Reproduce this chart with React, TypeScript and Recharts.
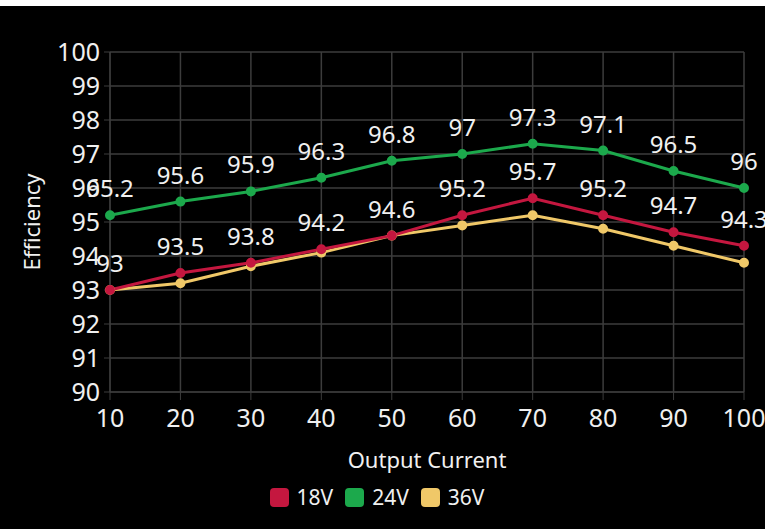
import { CartesianGrid, Label, LabelList, Legend, Line, LineChart, XAxis, YAxis } from "recharts";

const currents = [10, 20, 30, 40, 50, 60, 70, 80, 90, 100];
const eff18V = [93, 93.5, 93.8, 94.2, 94.6, 95.2, 95.7, 95.2, 94.7, 94.3];
const eff24V = [95.2, 95.6, 95.9, 96.3, 96.8, 97, 97.3, 97.1, 96.5, 96];
const eff36V = [93, 93.2, 93.7, 94.1, 94.6, 94.9, 95.2, 94.8, 94.3, 93.8];
const yTicks = [90, 91, 92, 93, 94, 95, 96, 97, 98, 99, 100];

const series = [
  { key: "v18", name: "18V", color: "#c4173f" },
  { key: "v24", name: "24V", color: "#1ca94c" },
  { key: "v36", name: "36V", color: "#f0c868" },
];

const data = currents.map((c, i) => ({ current: c, v18: eff18V[i], v24: eff24V[i], v36: eff36V[i] }));

const FONT = "'Noto Sans', 'Open Sans', sans-serif";
const GRID = "#3c3c3c";
const TEXT = "#f0f0f0";

function LegendContent() {
  return (
    <div style={{ display: "flex", justifyContent: "center", alignItems: "center", gap: 12, fontFamily: FONT, fontSize: 21, color: TEXT, height: 30 }}>
      {series.map((s) => (
        <div key={s.key} style={{ display: "flex", alignItems: "center", gap: 8 }}>
          <span style={{ width: 19, height: 19, borderRadius: 4, background: s.color, display: "inline-block" }} />
          <span>{s.name}</span>
        </div>
      ))}
    </div>
  );
}

export default function App() {
  return (
    <div style={{ position: "fixed", left: 0, top: 0, width: 765, height: 529, background: "#000" }}>
      <div style={{ position: "absolute", left: 0, top: 0, width: 765, height: 6, background: "#fff" }} />
      <LineChart width={765} height={529} data={data} margin={{ top: 52, right: 21, bottom: 17, left: 10 }}>
        <CartesianGrid stroke={GRID} strokeWidth={1.5} />
        <XAxis
          dataKey="current"
          type="number"
          domain={[10, 100]}
          ticks={currents}
          stroke={GRID}
          tickSize={8}
          tickMargin={9}
          height={90}
          tick={{ fill: TEXT, fontSize: 25, fontFamily: FONT }}
        >
          <Label value="Output Current" position="insideBottom" offset={14} fill={TEXT} fontSize={22} fontFamily={FONT} />
        </XAxis>
        <YAxis
          domain={[90, 100]}
          ticks={yTicks}
          interval={0}
          stroke={GRID}
          tickSize={6}
          tickMargin={4}
          width={100}
          tick={{ fill: TEXT, fontSize: 25, fontFamily: FONT }}
        >
          <Label value="Efficiency" angle={-90} position="insideLeft" offset={22} fill={TEXT} fontSize={22} fontFamily={FONT} style={{ textAnchor: "middle" }} />
        </YAxis>
        <Legend verticalAlign="bottom" content={<LegendContent />} />
        <Line dataKey="v36" name="36V" type="linear" stroke={series[2].color} strokeWidth={3} dot={{ r: 3.5, fill: series[2].color, stroke: series[2].color }} isAnimationActive={false} />
        <Line dataKey="v18" name="18V" type="linear" stroke={series[0].color} strokeWidth={3} dot={{ r: 3.5, fill: series[0].color, stroke: series[0].color }} isAnimationActive={false}>
          <LabelList dataKey="v18" position="top" offset={18} fill={TEXT} fontSize={24} fontFamily={FONT} />
        </Line>
        <Line dataKey="v24" name="24V" type="linear" stroke={series[1].color} strokeWidth={3} dot={{ r: 3.5, fill: series[1].color, stroke: series[1].color }} isAnimationActive={false}>
          <LabelList dataKey="v24" position="top" offset={18} fill={TEXT} fontSize={24} fontFamily={FONT} />
        </Line>
      </LineChart>
    </div>
  );
}
